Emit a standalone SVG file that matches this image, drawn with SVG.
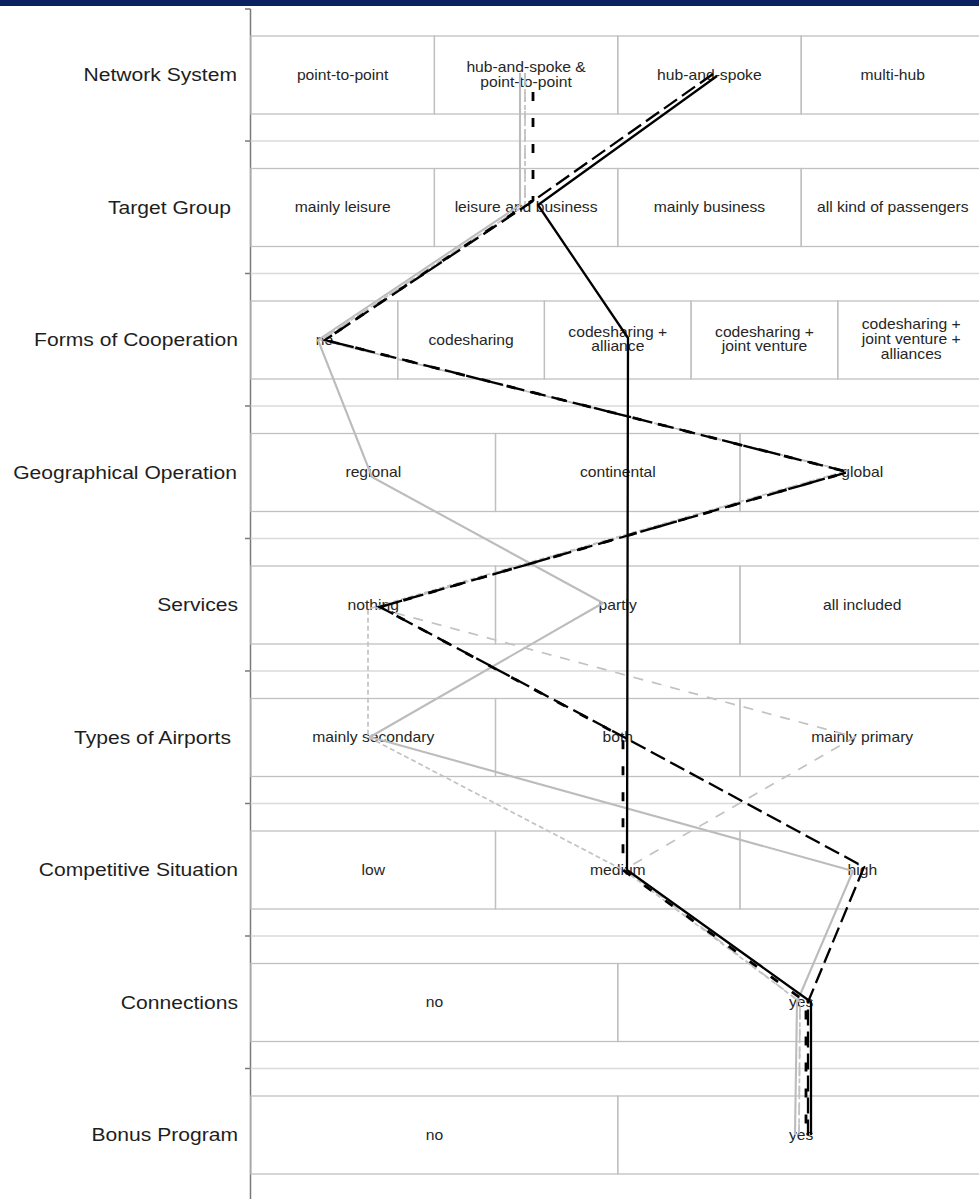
<svg xmlns="http://www.w3.org/2000/svg" width="979" height="1199" viewBox="0 0 979 1199">
  <style>
    text { font-family: "Liberation Sans", Arial, sans-serif; fill: #1e1e1e; transform-box: fill-box; }
    .lbl { font-size: 18.5px; text-anchor: end; transform-origin: 100% 50%; transform: scaleX(1.14); }
    .val { font-size: 14px; text-anchor: middle; transform-origin: 50% 50%; transform: scaleX(1.12); fill: #262626; }
    .cell { fill: none; stroke: #c0c0c0; stroke-width: 1.3; }
    .sep { stroke: #dadada; stroke-width: 1.3; }
    .axis { stroke: #7a7a7a; stroke-width: 1.5; fill: none; }
    .s-solid-black { fill: none; stroke: #000; stroke-width: 2.3; stroke-linejoin: round; }
    .s-long-black { fill: none; stroke: #000; stroke-width: 2.3; stroke-dasharray: 16 6; }
    .s-short-black { fill: none; stroke: #000; stroke-width: 2.8; stroke-dasharray: 9 17; stroke-dashoffset: 9; }
    .s-solid-grey { fill: none; stroke: #bcbcbc; stroke-width: 2.1; stroke-linejoin: round; }
    .s-dot-grey { fill: none; stroke: #c2c2c2; stroke-width: 1.7; stroke-dasharray: 5 3; }
    .s-dash-grey { fill: none; stroke: #c2c2c2; stroke-width: 1.7; stroke-dasharray: 10 9; }
  </style>

  <!-- header band -->
  <rect x="0" y="0" width="979" height="6" fill="#0b2160"/>

  <!-- vertical axis with ticks and light separators between criteria -->
  <g id="axis">
    <line class="axis" x1="250.5" y1="9" x2="250.5" y2="1199"/>
    <g class="sep">
      <line x1="250.5" y1="141" x2="979" y2="141"/>
      <line x1="250.5" y1="273.5" x2="979" y2="273.5"/>
      <line x1="250.5" y1="406" x2="979" y2="406"/>
      <line x1="250.5" y1="538.5" x2="979" y2="538.5"/>
      <line x1="250.5" y1="671" x2="979" y2="671"/>
      <line x1="250.5" y1="803.5" x2="979" y2="803.5"/>
      <line x1="250.5" y1="936" x2="979" y2="936"/>
      <line x1="250.5" y1="1068.5" x2="979" y2="1068.5"/>
    </g>
    <g class="axis">
      <line x1="245" y1="9" x2="250.5" y2="9"/>
      <line x1="245" y1="141" x2="250.5" y2="141"/>
      <line x1="245" y1="273.5" x2="250.5" y2="273.5"/>
      <line x1="245" y1="406" x2="250.5" y2="406"/>
      <line x1="245" y1="538.5" x2="250.5" y2="538.5"/>
      <line x1="245" y1="671" x2="250.5" y2="671"/>
      <line x1="245" y1="803.5" x2="250.5" y2="803.5"/>
      <line x1="245" y1="936" x2="250.5" y2="936"/>
      <line x1="245" y1="1068.5" x2="250.5" y2="1068.5"/>
    </g>
  </g>

  <!-- criteria rows -->
  <g id="network-system">
    <text class="lbl" x="237" y="81.5">Network System</text>
    <rect class="cell" x="251" y="36" width="183.4" height="78"/>
    <rect class="cell" x="434.4" y="36" width="183.4" height="78"/>
    <rect class="cell" x="617.8" y="36" width="183.4" height="78"/>
    <rect class="cell" x="801.2" y="36" width="183.4" height="78"/>
    <text class="val" x="342.7" y="80">point-to-point</text>
    <text class="val" x="526.1" y="72.2">hub-and-spoke &amp;</text>
    <text class="val" x="526.1" y="86.8">point-to-point</text>
    <text class="val" x="709.4" y="80">hub-and-spoke</text>
    <text class="val" x="892.8" y="80">multi-hub</text>
  </g>

  <g id="target-group">
    <text class="lbl" x="231" y="214">Target Group</text>
    <rect class="cell" x="251" y="168.5" width="183.4" height="78"/>
    <rect class="cell" x="434.4" y="168.5" width="183.4" height="78"/>
    <rect class="cell" x="617.8" y="168.5" width="183.4" height="78"/>
    <rect class="cell" x="801.2" y="168.5" width="183.4" height="78"/>
    <text class="val" x="342.7" y="212.5">mainly leisure</text>
    <text class="val" x="526.1" y="212.5">leisure and business</text>
    <text class="val" x="709.4" y="212.5">mainly business</text>
    <text class="val" x="892.8" y="212.5">all kind of passengers</text>
  </g>

  <g id="forms-of-cooperation">
    <text class="lbl" x="238" y="346.5">Forms of Cooperation</text>
    <rect class="cell" x="251" y="301" width="146.7" height="78"/>
    <rect class="cell" x="397.7" y="301" width="146.7" height="78"/>
    <rect class="cell" x="544.4" y="301" width="146.7" height="78"/>
    <rect class="cell" x="691.1" y="301" width="146.7" height="78"/>
    <rect class="cell" x="837.8" y="301" width="146.7" height="78"/>
    <text class="val" x="324.4" y="345">no</text>
    <text class="val" x="471.1" y="345">codesharing</text>
    <text class="val" x="617.8" y="337">codesharing +</text>
    <text class="val" x="617.8" y="351.5">alliance</text>
    <text class="val" x="764.5" y="337">codesharing +</text>
    <text class="val" x="764.5" y="351.5">joint venture</text>
    <text class="val" x="911.2" y="329.3">codesharing +</text>
    <text class="val" x="911.2" y="344">joint venture +</text>
    <text class="val" x="911.2" y="358.7">alliances</text>
  </g>

  <g id="geographical-operation">
    <text class="lbl" x="237" y="479">Geographical Operation</text>
    <rect class="cell" x="251" y="433.5" width="244.5" height="78"/>
    <rect class="cell" x="495.5" y="433.5" width="244.5" height="78"/>
    <rect class="cell" x="740" y="433.5" width="244.5" height="78"/>
    <text class="val" x="373.3" y="477.5">regional</text>
    <text class="val" x="617.8" y="477.5">continental</text>
    <text class="val" x="862.3" y="477.5">global</text>
  </g>

  <g id="services">
    <text class="lbl" x="238" y="611.5">Services</text>
    <rect class="cell" x="251" y="566" width="244.5" height="78"/>
    <rect class="cell" x="495.5" y="566" width="244.5" height="78"/>
    <rect class="cell" x="740" y="566" width="244.5" height="78"/>
    <text class="val" x="373.3" y="610">nothing</text>
    <text class="val" x="617.8" y="610">partly</text>
    <text class="val" x="862.3" y="610">all included</text>
  </g>

  <g id="types-of-airports">
    <text class="lbl" x="231" y="744">Types of Airports</text>
    <rect class="cell" x="251" y="698.5" width="244.5" height="78"/>
    <rect class="cell" x="495.5" y="698.5" width="244.5" height="78"/>
    <rect class="cell" x="740" y="698.5" width="244.5" height="78"/>
    <text class="val" x="373.3" y="742.5">mainly secondary</text>
    <text class="val" x="617.8" y="742.5">both</text>
    <text class="val" x="862.3" y="742.5">mainly primary</text>
  </g>

  <g id="competitive-situation">
    <text class="lbl" x="238" y="876.5">Competitive Situation</text>
    <rect class="cell" x="251" y="831" width="244.5" height="78"/>
    <rect class="cell" x="495.5" y="831" width="244.5" height="78"/>
    <rect class="cell" x="740" y="831" width="244.5" height="78"/>
    <text class="val" x="373.3" y="875">low</text>
    <text class="val" x="617.8" y="875">medium</text>
    <text class="val" x="862.3" y="875">high</text>
  </g>

  <g id="connections">
    <text class="lbl" x="238" y="1009">Connections</text>
    <rect class="cell" x="251" y="963.5" width="366.8" height="78"/>
    <rect class="cell" x="617.8" y="963.5" width="366.8" height="78"/>
    <text class="val" x="434.4" y="1007.5">no</text>
    <text class="val" x="801.1" y="1007.5">yes</text>
  </g>

  <g id="bonus-program">
    <text class="lbl" x="238" y="1141.5">Bonus Program</text>
    <rect class="cell" x="251" y="1096" width="366.8" height="78"/>
    <rect class="cell" x="617.8" y="1096" width="366.8" height="78"/>
    <text class="val" x="434.4" y="1140">no</text>
    <text class="val" x="801.1" y="1140">yes</text>
  </g>

  <!-- profile lines linking the chosen value of each criterion -->
  <g id="connectors">
    <polyline class="s-solid-grey" points="520,73 520,205 318,340 372,477 603,603 370,737 853,871 797,1002 795,1135"/>
    <polyline class="s-dot-grey" points="525,73 525,205 321,340 846,471 368,609 368,737 625,871 800,1002 799,1135"/>
    <polyline class="s-dash-grey" points="525,73 525,205 321,340 846,471 377,608 855,737 625,869 800,1002 799,1135"/>
    <polyline class="s-long-black" points="713,74 533,201 325,340 848,472 380,607 620,735 864,867 808,1002 808,1135"/>
    <polyline class="s-short-black" points="533,75 533,200 325,340 848,472 380,607 623,737 623,870 806,1002 806,1135"/>
    <polyline class="s-solid-black" points="717,76 538,205 628,338 627,870 811,1002 811,1135"/>
  </g>
</svg>
